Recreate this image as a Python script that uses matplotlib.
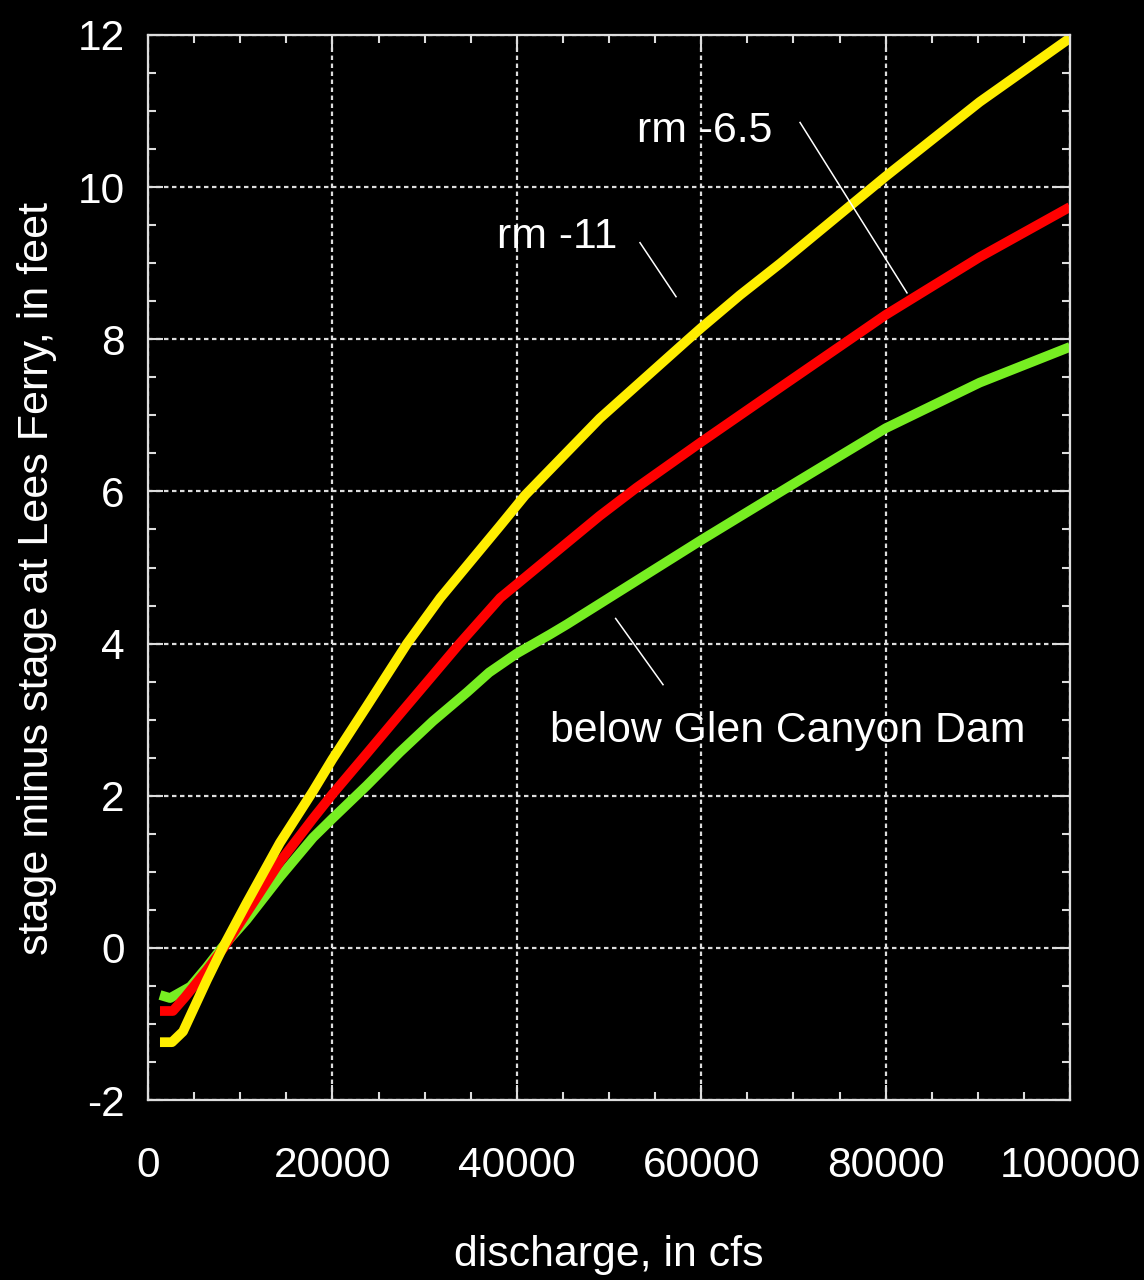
import matplotlib
matplotlib.use("Agg")
import matplotlib.pyplot as plt
from matplotlib.ticker import MultipleLocator

plt.rcParams['font.family'] = ['Liberation Sans', 'DejaVu Sans']

# ---- data ----
discharge_rm11 = [1300, 2600, 3800, 6400, 8100, 10700, 14300, 17900, 20000, 23700,
                  28100, 31700, 38200, 40900, 49000, 58600, 60000, 64200, 68600,
                  80000, 90200, 100000]
stage_rm11 = [-1.24, -1.24, -1.10, -0.42, 0.0, 0.59, 1.38, 2.06, 2.48, 3.17,
              4.00, 4.60, 5.55, 5.95, 6.96, 8.00, 8.15, 8.58, 9.00,
              10.14, 11.12, 11.96]

discharge_rm65 = [1300, 2700, 4000, 6400, 8200, 10700, 14300, 17900, 20000, 23700,
                  27300, 33800, 38200, 49000, 53000, 60000, 68600, 80000, 90200, 100000]
stage_rm65 = [-0.83, -0.83, -0.65, -0.29, 0.0, 0.46, 1.13, 1.70, 2.02, 2.55,
              3.07, 4.00, 4.60, 5.68, 6.05, 6.65, 7.37, 8.32, 9.08, 9.74]

discharge_gcd = [1300, 2400, 4600, 6400, 8000, 10700, 14300, 17900, 20000, 23700,
                 27300, 30900, 34600, 37000, 40000, 43600, 45400, 60000, 70700,
                 80000, 90200, 100000]
stage_gcd = [-0.62, -0.66, -0.51, -0.25, 0.0, 0.37, 0.93, 1.45, 1.70, 2.13,
             2.57, 2.98, 3.36, 3.62, 3.87, 4.12, 4.25, 5.36, 6.15,
             6.83, 7.43, 7.90]

series_labels = ['rm -11', 'rm -6.5', 'below Glen Canyon Dam']
series_colors = ['#FFEE00', '#FF0000', '#77EE22']

x_ticks = [0, 20000, 40000, 60000, 80000, 100000]
y_ticks = [-2, 0, 2, 4, 6, 8, 10, 12]

# ---- figure ----
W, H = 1144, 1280
fig = plt.figure(figsize=(W / 100, H / 100), dpi=100, facecolor='black')
ax = fig.add_axes([148 / W, (H - 1100) / H, (1070 - 148) / W, (1100 - 35) / H])
ax.set_facecolor('black')

line_kw = dict(lw=7, solid_capstyle='butt', solid_joinstyle='round')
ax.plot(discharge_gcd, stage_gcd, color=series_colors[2], zorder=3, **line_kw)
ax.plot(discharge_rm65, stage_rm65, color=series_colors[1], zorder=4, **line_kw)
ax.plot(discharge_rm11, stage_rm11, color=series_colors[0], zorder=5, **line_kw)

ax.set_xlim(0, 100000)
ax.set_ylim(-2, 12)
ax.set_xticks(x_ticks)
ax.set_xticklabels([str(v) for v in x_ticks])
ax.set_yticks(y_ticks)
ax.set_yticklabels([str(v) for v in y_ticks])
ax.xaxis.set_minor_locator(MultipleLocator(5000))
ax.yaxis.set_minor_locator(MultipleLocator(0.5))

ax.grid(True, which='major', color='#dddddd', lw=1.6, linestyle=(0, (2, 1.6)), zorder=1)
ax.set_axisbelow(True)

for s in ax.spines.values():
    s.set_color('#dddddd')
    s.set_linewidth(1.6)
    s.set_zorder(6)

ax.tick_params(axis='both', which='both', direction='in', top=True, right=True,
               colors='#dddddd', width=1.5)
ax.tick_params(axis='both', which='major', length=11)
ax.tick_params(axis='both', which='minor', length=6)
ax.tick_params(axis='x', which='major', pad=33, labelsize=30.5, labelcolor='white')
ax.tick_params(axis='y', which='major', pad=17, labelsize=30.5, labelcolor='white')

ax.set_xlabel('discharge, in cfs', fontsize=30.8, color='white', va='center')
ax.xaxis.set_label_coords(0.5, (1100 - 1255) / 1065)
ax.set_ylabel('stage minus stage at Lees Ferry, in feet', fontsize=31,
              color='white', va='center')
ax.yaxis.set_label_coords((37 - 148) / 922, (1100 - 578) / 1065)

# ---- annotations ----
ax.text(37850, 9.20, series_labels[0], fontsize=30.8, color='white',
        ha='left', va='baseline', zorder=7)
ax.plot([53360, 57270], [9.27, 8.56], color='white', lw=1.1, zorder=7)

ax.text(53040, 10.60, series_labels[1], fontsize=30.8, color='white',
        ha='left', va='baseline', zorder=7)
ax.plot([70720, 82320], [10.85, 8.61], color='white', lw=1.1, zorder=7)

ax.text(43600, 2.71, series_labels[2], fontsize=30.8, color='white',
        ha='left', va='baseline', zorder=7)
ax.plot([50720, 55860], [4.33, 3.46], color='white', lw=1.1, zorder=7)

fig.savefig('out.png', dpi=100, facecolor='black')
